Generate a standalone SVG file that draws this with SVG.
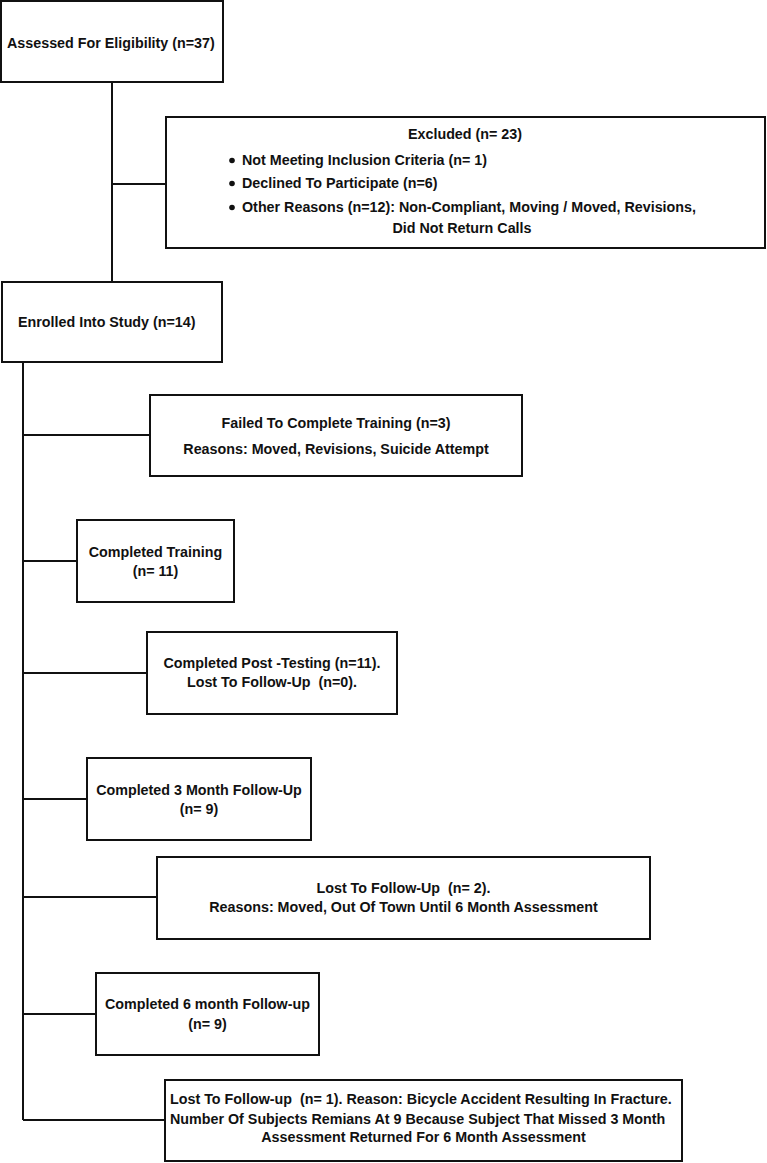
<svg xmlns="http://www.w3.org/2000/svg" width="767" height="1163" viewBox="0 0 767 1163" xml:space="preserve">
<style>
.box{fill:#fff;stroke:#111;stroke-width:2}
.t{font-family:"Liberation Sans",Arial,sans-serif;font-weight:bold;font-size:14.3px;fill:#111;white-space:pre}
.c{text-anchor:middle}
.ln{stroke:#111;stroke-width:2;fill:none}
</style>
<rect width="767" height="1163" fill="#fff"/>
<g id="connectors">
<path class="ln" d="M112 82V282M112 184H166M23 362V1120M23 435H150M23 561H77M23 673H147M23 799H87M23 897H157M23 1014H96M23 1120H165"/>
</g>
<g id="n1"><rect class="box" x="1" y="1" width="222" height="81"/><text class="t" x="7" y="47.5">Assessed For Eligibility (n=37)</text></g>
<g id="n2"><rect class="box" x="166" y="117" width="599" height="131"/>
<text class="t c" x="465" y="139">Excluded (n= 23)</text>
<circle cx="232" cy="160.5" r="2.8" fill="#111"/><text class="t" x="242" y="165">Not Meeting Inclusion Criteria (n= 1)</text>
<circle cx="232" cy="183.5" r="2.8" fill="#111"/><text class="t" x="242" y="188">Declined To Participate (n=6)</text>
<circle cx="232" cy="207.5" r="2.8" fill="#111"/><text class="t" x="242" y="212">Other Reasons (n=12): Non-Compliant, Moving / Moved, Revisions,</text>
<text class="t c" x="462" y="233">Did Not Return Calls</text></g>
<g id="n3"><rect class="box" x="2" y="282" width="220" height="80"/><text class="t" x="18" y="327">Enrolled Into Study (n=14)</text></g>
<g id="n4"><rect class="box" x="150" y="395" width="372" height="81"/><text class="t c" x="336" y="428">Failed To Complete Training (n=3)</text><text class="t c" x="336" y="454">Reasons: Moved, Revisions, Suicide Attempt</text></g>
<g id="n5"><rect class="box" x="77" y="520" width="157" height="82"/><text class="t c" x="155.5" y="557">Completed Training</text><text class="t c" x="155.5" y="576">(n= 11)</text></g>
<g id="n6"><rect class="box" x="147" y="632" width="250" height="82"/><text class="t c" x="272" y="668">Completed Post -Testing (n=11).</text><text class="t c" x="272" y="687">Lost To Follow-Up  (n=0).</text></g>
<g id="n7"><rect class="box" x="87" y="758" width="224" height="82"/><text class="t c" x="199" y="795">Completed 3 Month Follow-Up</text><text class="t c" x="199" y="814">(n= 9)</text></g>
<g id="n8"><rect class="box" x="157" y="857" width="493" height="82"/><text class="t c" x="403.5" y="893">Lost To Follow-Up  (n= 2).</text><text class="t c" x="403.5" y="912">Reasons: Moved, Out Of Town Until 6 Month Assessment</text></g>
<g id="n9"><rect class="box" x="96" y="973" width="223" height="82"/><text class="t c" x="207.5" y="1009">Completed 6 month Follow-up</text><text class="t c" x="207.5" y="1029">(n= 9)</text></g>
<g id="n10"><rect class="box" x="165" y="1080" width="517" height="81"/><text class="t" x="170" y="1104">Lost To Follow-up  (n= 1). Reason: Bicycle Accident Resulting In Fracture.</text><text class="t" x="170" y="1124">Number Of Subjects Remians At 9 Because Subject That Missed 3 Month</text><text class="t c" x="423.5" y="1142">Assessment Returned For 6 Month Assessment</text></g>
</svg>
